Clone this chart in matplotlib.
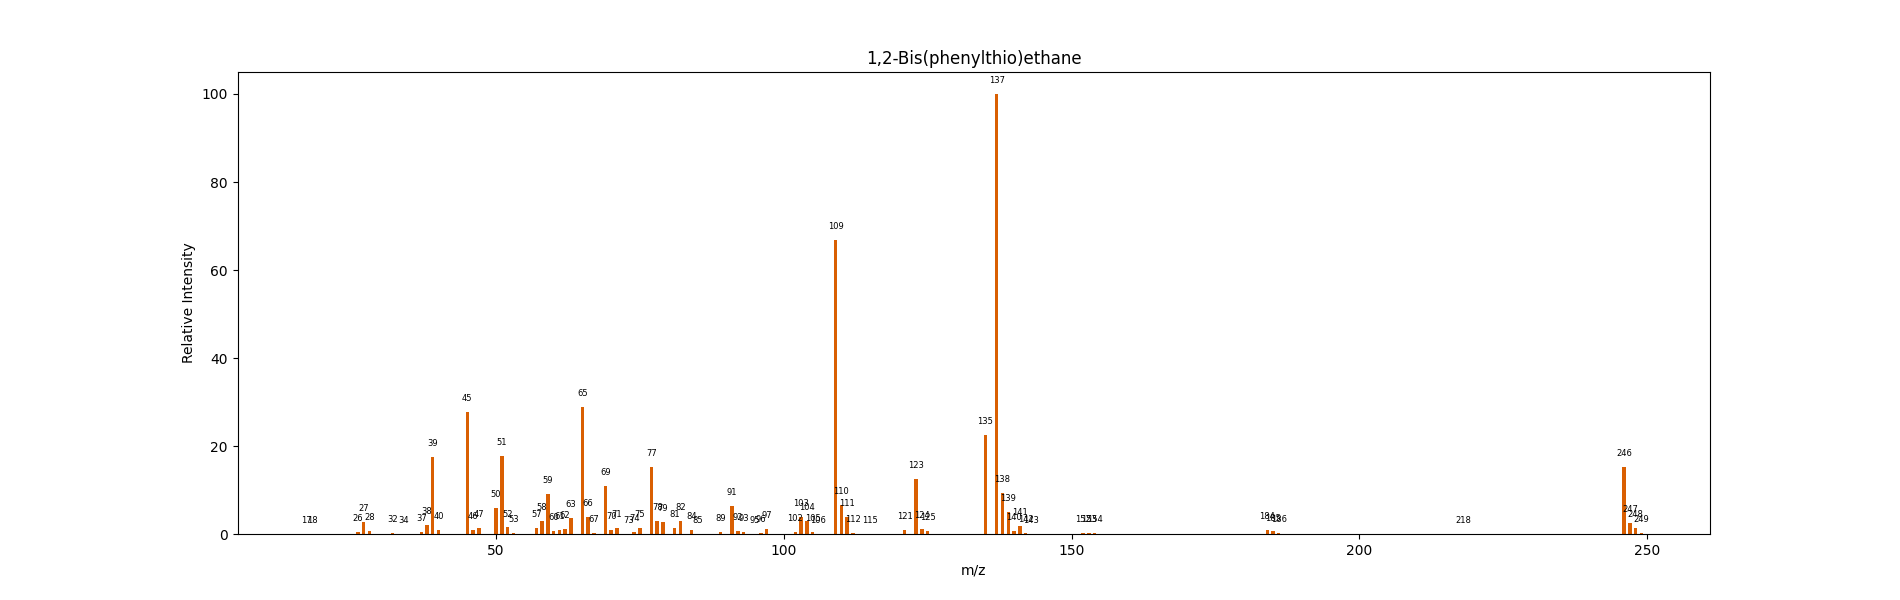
import matplotlib
matplotlib.use("Agg")
import matplotlib.pyplot as plt

# m/z values and relative intensities
mz = [17, 18, 26, 27, 28, 32, 34, 37, 38, 39, 40, 45, 46, 47, 50, 51, 52, 53,
      57, 58, 59, 60, 61, 62, 63, 65, 66, 67, 69, 70, 71, 73, 74, 75, 77, 78,
      79, 81, 82, 84, 85, 89, 91, 92, 93, 95, 96, 97, 102, 103, 104, 105, 106,
      109, 110, 111, 112, 115, 121, 123, 124, 125, 135, 137, 138, 139, 140,
      141, 142, 143, 152, 153, 154, 184, 185, 186, 218, 246, 247, 248, 249]
intensity = [0.1, 0.1, 0.4, 2.7, 0.7, 0.3, 0.1, 0.5, 2.1, 17.5, 0.9, 27.7, 0.9,
             1.3, 5.9, 17.7, 1.5, 0.3,
             1.4, 2.9, 9.1, 0.7, 0.9, 1.1, 3.6, 28.9, 3.9, 0.3, 10.9, 0.9, 1.4,
             0.1, 0.5, 1.4, 15.2, 2.9,
             2.7, 1.4, 2.9, 0.9, 0.1, 0.5, 6.3, 0.7, 0.5, 0.1, 0.3, 1.2, 0.5,
             3.9, 3.0, 0.5, 0.1,
             66.8, 6.6, 3.9, 0.3, 0.1, 0.9, 12.5, 1.2, 0.7, 22.5, 100.0, 9.4,
             5.0, 0.7,
             1.9, 0.3, 0.1, 0.3, 0.3, 0.3, 0.9, 0.6, 0.2, 0.1, 15.2, 2.5, 1.4, 0.3]

fig, ax = plt.subplots(figsize=(19, 6), dpi=100)
ax.bar(mz, intensity, width=0.6, color='#d95f02')

# peak labels just above each bar
for x, h in zip(mz, intensity):
    ax.text(x, h + 2, str(x), ha='center', va='bottom', fontsize=6)

ax.set_title('1,2-Bis(phenylthio)ethane')
ax.set_xlabel('m/z')
ax.set_ylabel('Relative Intensity')
ax.set_ylim(0, 105)

fig.savefig('out.png')
